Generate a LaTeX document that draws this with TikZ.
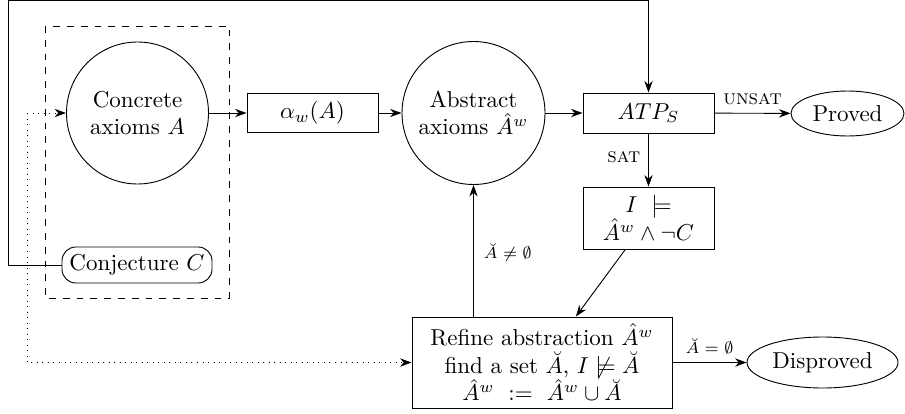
\documentclass[tikz,border=0pt]{standalone}
\usepackage{amsmath,amssymb}
\usetikzlibrary{arrows.meta,shapes.geometric}
\def\pxu{0.4348pt}
\begin{document}
\begin{tikzpicture}[x=\pxu,y=-\pxu,
  arr/.style={-{Stealth[length=5pt,width=3.6pt]},thin},
  circ/.style={draw,circle,minimum size=142*\pxu,inner sep=0pt,align=center},
  boxn/.style={draw,rectangle,inner sep=0pt,align=center},
  ell/.style={draw,ellipse,inner sep=0pt},
  lab/.style={font=\scriptsize},
  sclab/.style={font=\small}]
\useasboundingbox (0,0) rectangle (905,413);
\node[circ] (conc) at (137.5,113) {Concrete\\axioms $A$};
\node[boxn,rounded corners=6pt,minimum width=150*\pxu,minimum height=36*\pxu] (conj) at (137,265) {Conjecture $C$};
\draw[dashed] (45,26) rectangle (229,298);
\node[boxn,minimum width=131*\pxu,minimum height=39*\pxu] (alpha) at (312.5,113) {$\alpha_w(A)$};
\node[circ,minimum size=143*\pxu] (abs) at (473.5,113) {Abstract\\axioms $\hat{A}^w$};
\node[boxn,minimum width=131*\pxu,minimum height=40*\pxu] (atp) at (648.5,113) {$ATP_S$};
\node[ell,minimum width=113*\pxu,minimum height=45*\pxu] (proved) at (847.5,113.5) {Proved};
\node[boxn,minimum width=131*\pxu,minimum height=62*\pxu] (sat) at (648.5,218) {$I\ \models$\\$\hat{A}^w\wedge\neg C$};
\node[boxn,minimum width=260*\pxu,minimum height=91*\pxu] (refine) at (542,362.5) {Refine abstraction $\hat{A}^w$\\find a set $\breve{A}$, $I\not\models\breve{A}$\\$\hat{A}^w\ :=\ \hat{A}^w\cup\breve{A}$};
\node[ell,minimum width=151*\pxu,minimum height=51*\pxu] (disp) at (822.5,362.5) {Disproved};
\coordinate (c1) at (8,265);
\coordinate (c2) at (8,0.5);
\coordinate (c3) at (648.5,0.5);
\coordinate (d1) at (27,113);
\coordinate (d2) at (27,362.5);
\draw[arr] (conc) -- (alpha);
\draw[arr] (alpha) -- (abs);
\draw[arr] (abs) -- (atp);
\draw[arr] (atp) -- node[sclab,above]{\textsc{unsat}} (proved);
\draw[arr] (atp) -- node[sclab,left,pos=0.45]{\textsc{sat}} (sat);
\draw[arr] (sat) -- (refine);
\draw[arr] (refine.north -| abs) -- node[lab,right,xshift=1pt,pos=0.49]{$\breve{A}\neq\emptyset$} (abs);
\draw[arr] (refine) -- node[lab,above]{$\breve{A}=\emptyset$} (disp);
\draw[arr] (conj.west) -- (c1) -- (c2) -- (c3) -- (atp.north);
\draw[arr,dotted] (d1) -- (conc);
\draw[arr,dotted] (d1) -- (d2) -- (refine.west);
\end{tikzpicture}
\end{document}
